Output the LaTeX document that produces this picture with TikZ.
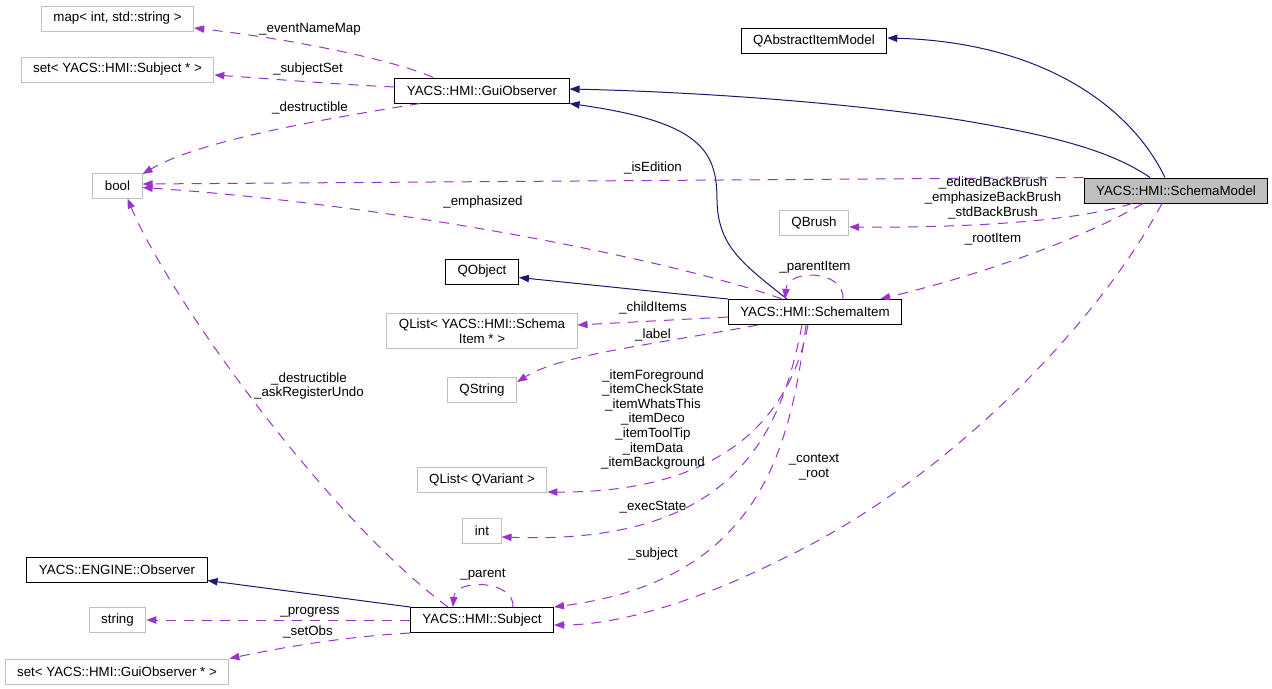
\documentclass[tikz,border=0pt]{standalone}
\usepackage{fontspec}
\setmainfont{Liberation Sans}
\usepackage{tikz}
\usetikzlibrary{arrows.meta, calc}
\definecolor{inheritblue}{RGB}{25, 25, 112}
\definecolor{memberpurple}{RGB}{154, 50, 205}
\definecolor{extgray}{RGB}{191, 191, 191}

\begin{document}
\begin{tikzpicture}[
    x=0.75pt, y=-0.75pt,
    every node/.style={font=\fontsize{10}{10.9}\selectfont},
    cls/.style={rectangle, draw=black, line width=0.75pt, inner xsep=9pt, inner ysep=0pt, minimum height=18.75pt, align=center},
    ext/.style={cls, draw=extgray},
    focus/.style={cls, fill=extgray},
    inherit/.style={-{Triangle[length=7.5pt, width=5.5pt]}, line width=0.75pt, inheritblue},
    member/.style={-{Triangle[length=7.5pt, width=5.5pt]}, line width=0.75pt, memberpurple, dash pattern=on 7.5pt off 6pt},
    lbl/.style={align=center, inner sep=0pt}
]
    \useasboundingbox (0,0) rectangle (1272,689);

    % Classes
    \node[focus] (schemamodel) at (1176,190.5) {YACS::HMI::SchemaModel};
    \node[cls] (qaim) at (814,40.5) {QAbstractItemModel};
    \node[cls] (guiobserver) at (482,90.5) {YACS::HMI::GuiObserver};
    \node[cls] (qobject) at (482,271.5) {QObject};
    \node[cls] (schemaitem) at (815,312) {YACS::HMI::SchemaItem};
    \node[cls] (engineobs) at (117,570) {YACS::ENGINE::Observer};
    \node[cls] (subject) at (482,620) {YACS::HMI::Subject};

    % Types of members
    \node[ext] (mapnames) at (117.5,18.5) {map< int, std::string >};
    \node[ext] (subjectset) at (117.5,69.5) {set< YACS::HMI::Subject * >};
    \node[ext] (boolt) at (117.5,185.5) {bool};
    \node[ext] (qbrush) at (814,222.5) {QBrush};
    \node[ext, inner ysep=4pt] (childlist) at (482,331) {QList< YACS::HMI::Schema\\Item * >};
    \node[ext] (qstring) at (482,390) {QString};
    \node[ext] (variantlist) at (482,480) {QList< QVariant >};
    \node[ext] (intt) at (482,530.5) {int};
    \node[ext] (stringt) at (117.5,620) {string};
    \node[ext] (observerset) at (117,671.5) {set< YACS::HMI::GuiObserver * >};

    % Inheritance
    \draw[inherit] ($(schemamodel.north)+(-26,0)$) .. controls (1110,150) and (1050,135) .. (960,120)
        .. controls (850,103) and (700,92) .. ($(guiobserver.east)+(0,-1.5)$);
    \draw[inherit] ($(schemamodel.north)+(-11,0)$) .. controls (1130,105) and (1040,42) .. ($(qaim.east)+(0,-2.5)$);
    \draw[inherit] ($(schemaitem.north)+(-28,0)$) .. controls (740,262) and (718,245) .. (717,200)
        .. controls (717,150) and (700,122) .. (guiobserver.south east);
    \draw[inherit] (schemaitem.north west) -- ($(qobject.east)+(0,6)$);
    \draw[inherit] (subject.north west) -- ($(engineobs.east)+(0,10.5)$);

    % Members of GuiObserver
    \draw[member] ($(guiobserver.north)+(-49,0)$) .. controls (400,62) and (300,40) .. ($(mapnames.east)+(0,9.5)$);
    \draw[member] ($(guiobserver.west)+(0,-3.5)$) .. controls (330,84) and (260,78) .. ($(subjectset.east)+(0,5.5)$);
    \draw[member] ($(guiobserver.south)+(-62,0)$) .. controls (330,118) and (200,140) .. ($(boolt.north east)+(0,1.5)$);

    % Members of SchemaModel
    \draw[member] ($(schemamodel.west)+(0,-13)$) -- ($(boolt.east)+(0,-1.5)$);
    \draw[member] ($(schemamodel.south)+(-44,0)$) .. controls (1080,220) and (980,228) .. ($(qbrush.east)+(0,4.5)$);
    \draw[member] ($(schemamodel.south)+(-33,0)$) .. controls (1080,240) and (980,275) .. ($(schemaitem.north east)+(-22,0)$);
    \draw[member] ($(schemamodel.south)+(-14,0)$) .. controls (1100,320) and (950,480) .. (780,560)
        .. controls (700,600) and (620,625) .. ($(subject.east)+(0,5)$);

    % Members of SchemaItem
    \draw[member] ($(schemaitem.north)+(-33,0)$) .. controls (680,262) and (400,205) .. ($(boolt.east)+(0,2)$);
    \draw[member] ($(schemaitem.north)+(28,0)$) .. controls (845,270) and (788,268) .. ($(schemaitem.north)+(-30,0)$);
    \draw[member] ($(schemaitem.west)+(0,5)$) -- ($(childlist.east)+(0,-6)$);
    \draw[member] ($(schemaitem.south)+(-57,0)$) .. controls (650,345) and (560,355) .. ($(qstring.east)+(0,-8)$);
    \draw[member] ($(schemaitem.south)+(-7,0)$) .. controls (790,420) and (720,493) .. ($(variantlist.south east)+(0,-1)$);
    \draw[member] ($(schemaitem.south)+(-13,0)$) .. controls (780,440) and (730,545) .. ($(intt.east)+(0,6.5)$);
    \draw[member] ($(schemaitem.south)+(-9,0)$) .. controls (790,450) and (760,580) .. (subject.north east);

    % Members of Subject
    \draw[member] ($(subject.north)+(-34,0)$) .. controls (330,520) and (170,300) .. ($(boolt.south)+(10,0)$);
    \draw[member] ($(subject.north)+(31,0)$) .. controls (515,580) and (455,578) .. ($(subject.north)+(-29,0)$);
    \draw[member] (subject.west) -- (stringt.east);
    \draw[member] (subject.south west) .. controls (340,637) and (280,648) .. (observerset.north east);

    % Labels
    \node[lbl] (leventnamemap) at (310,29) {\_eventNameMap};
    \node[lbl] (lsubjectset) at (308,69) {\_subjectSet};
    \node[lbl] (ldestructible) at (310,108) {\_destructible};
    \node[lbl] (lisedition) at (653,168) {\_isEdition};
    \node[lbl] (lemphasized) at (483,202) {\_emphasized};
    \node[lbl] (lbrushes) at (993,198) {\_editedBackBrush\\\_emphasizeBackBrush\\\_stdBackBrush};
    \node[lbl] (lrootitem) at (993,239) {\_rootItem};
    \node[lbl] (lparentitem) at (815,267) {\_parentItem};
    \node[lbl] (lchilditems) at (653,308) {\_childItems};
    \node[lbl] (llabel) at (653,335) {\_label};
    \node[lbl] (litems) at (653,419.5) {\_itemForeground\\\_itemCheckState\\\_itemWhatsThis\\\_itemDeco\\\_itemToolTip\\\_itemData\\\_itemBackground};
    \node[lbl] (lcontext) at (814,467) {\_context\\\_root};
    \node[lbl] (lexecstate) at (653,507) {\_execState};
    \node[lbl] (lsubject) at (653,554) {\_subject};
    \node[lbl] (lundo) at (309,386) {\_destructible\\\_askRegisterUndo};
    \node[lbl] (lparent) at (483,575) {\_parent};
    \node[lbl] (lprogress) at (310,612) {\_progress};
    \node[lbl] (lsetobs) at (308,632) {\_setObs};
\end{tikzpicture}
\end{document}
